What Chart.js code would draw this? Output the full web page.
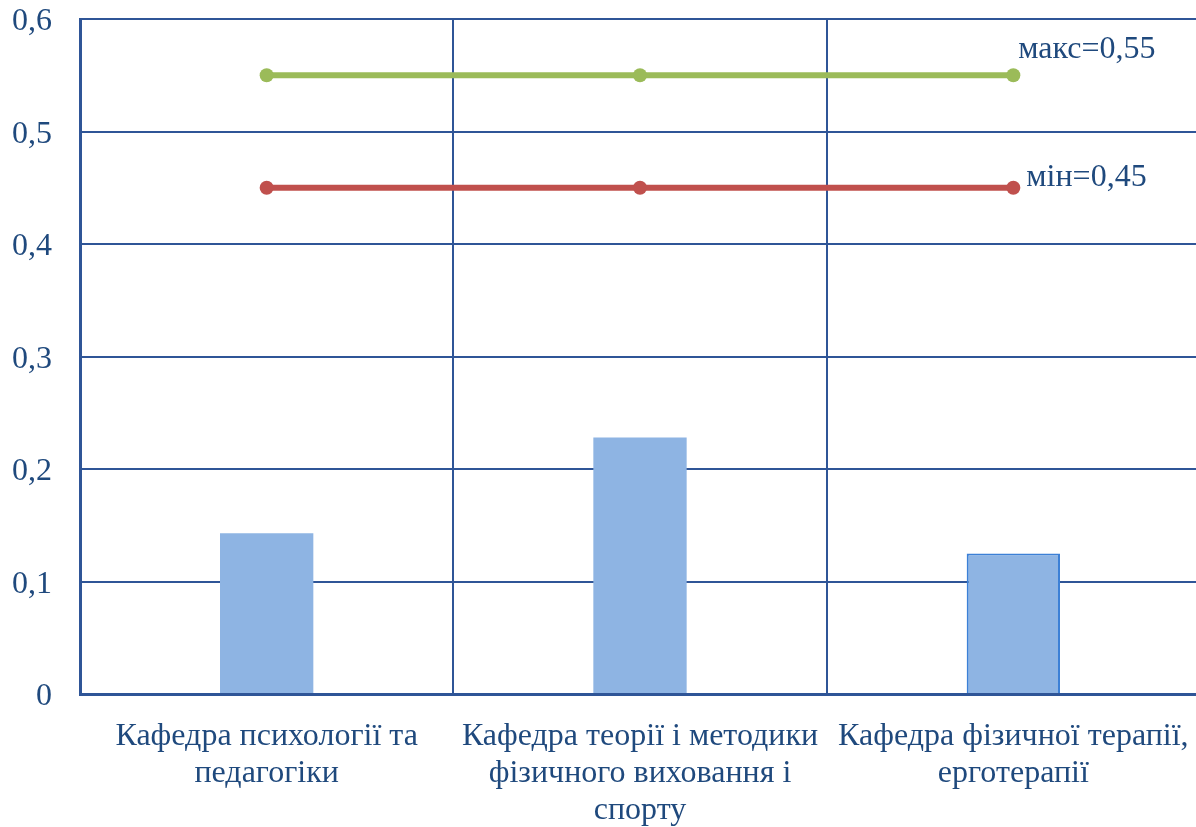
<!DOCTYPE html>
<html>
<head>
<meta charset="utf-8">
<script src="https://cdn.jsdelivr.net/npm/chart.js@4/dist/chart.umd.min.js"></script>
<style>
  html, body { margin: 0; padding: 0; background: #fff; overflow: hidden; }
  #wrap { width: 1200px; height: 827px; }
</style>
</head>
<body>
<div id="wrap"><canvas id="chart"></canvas></div>
<script>
// дані з діаграми
const categories = [
  ['Кафедра психології та', 'педагогіки'],
  ['Кафедра теорії і методики', 'фізичного виховання і', 'спорту'],
  ['Кафедра фізичної терапії,', 'ерготерапії']
];
const values = [0.143, 0.228, 0.125];
const maxValues = [0.55, 0.55, 0.55];
const minValues = [0.45, 0.45, 0.45];
const maxLabel = 'макс=0,55';
const minLabel = 'мін=0,45';
const yTickLabels = ['0', '0,1', '0,2', '0,3', '0,4', '0,5', '0,6'];

const gridColor = '#2F5597';
const textColor = '#1F497D';

// підписи справа від останньої точки ліній
const endLabels = {
  id: 'endLabels',
  afterDatasetsDraw(chart) {
    const c = chart.ctx;
    c.save();
    c.font = '32px "Liberation Serif"';
    c.fillStyle = textColor;
    c.textBaseline = 'alphabetic';
    const put = (i, text, dx, dy) => {
      const pts = chart.getDatasetMeta(i).data;
      const p = pts[pts.length - 1];
      c.fillText(text, p.x + dx, p.y + dy);
    };
    put(1, maxLabel, 5, -17);
    put(2, minLabel, 13, -2);
    c.restore();
  }
};

new Chart(document.getElementById('chart'), {
  type: 'bar',
  data: {
    labels: categories,
    datasets: [
      {
        label: 'values',
        data: values,
        backgroundColor: '#8EB4E3',
        borderColor: ['rgba(0,0,0,0)', 'rgba(0,0,0,0)', '#3C80D6'],
        borderWidth: [0, 0, 2],
        barPercentage: 0.25,
        categoryPercentage: 1,
        order: 2
      },
      {
        type: 'line',
        label: 'max',
        data: maxValues,
        borderColor: '#9BBB59',
        backgroundColor: '#9BBB59',
        borderWidth: 6,
        pointRadius: 7,
        pointBorderWidth: 0,
        order: 1
      },
      {
        type: 'line',
        label: 'min',
        data: minValues,
        borderColor: '#C0504D',
        backgroundColor: '#C0504D',
        borderWidth: 6,
        pointRadius: 7,
        pointBorderWidth: 0,
        order: 1
      }
    ]
  },
  options: {
    responsive: true,
    maintainAspectRatio: false,
    animation: false,
    layout: { autoPadding: false, padding: { top: 19, right: 0, left: 0, bottom: 0 } },
    plugins: {
      legend: { display: false },
      tooltip: { enabled: false }
    },
    scales: {
      x: {
        offset: true,
        grid: { offset: true, color: gridColor, lineWidth: 2, drawTicks: false },
        border: { color: gridColor, width: 3 },
        ticks: {
          color: textColor,
          font: { family: 'Liberation Serif', size: 32, lineHeight: 1.16 },
          padding: 24,
          maxRotation: 0,
          autoSkip: false
        },
        afterFit: s => {
          s.height = 133;
          s.paddingLeft = 0;
          s.paddingRight = 0;
        }
      },
      y: {
        min: 0,
        max: 0.6,
        grid: { color: gridColor, lineWidth: 2, drawTicks: false },
        border: { color: gridColor, width: 3 },
        ticks: {
          stepSize: 0.1,
          color: textColor,
          font: { family: 'Liberation Serif', size: 32 },
          padding: 28,
          labelOffset: 3,
          callback: (v, i) => yTickLabels[i]
        },
        afterFit: s => {
          s.width = 80;
          s.paddingTop = 0;
          s.paddingBottom = 0;
        }
      }
    }
  },
  plugins: [endLabels]
});
</script>
</body>
</html>
